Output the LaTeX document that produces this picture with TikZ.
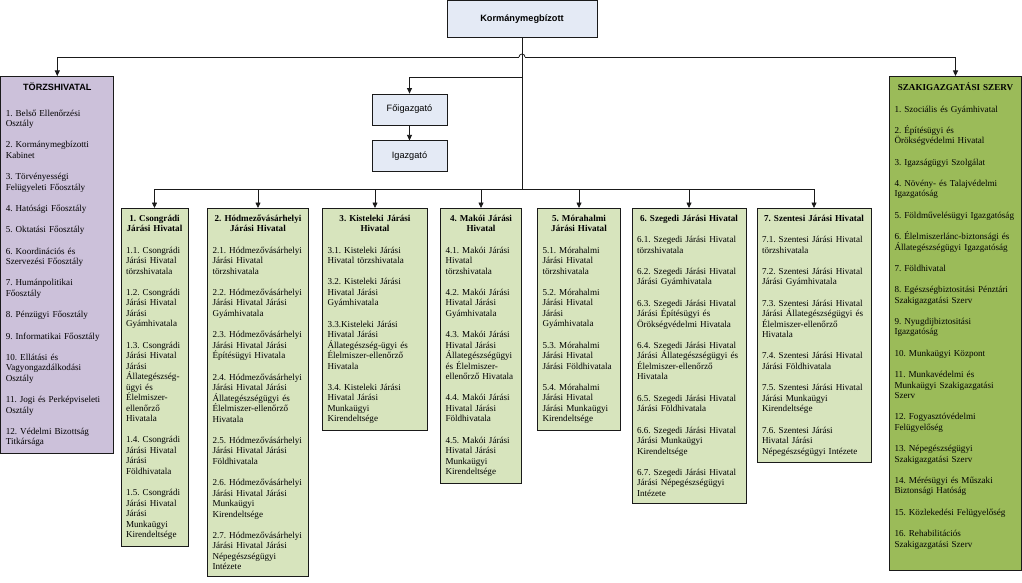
\documentclass[tikz,border=0pt]{standalone}
\usepackage{fontspec}
\setmainfont{Liberation Serif}
\setsansfont{Liberation Sans}
\usepackage{xcolor}
\definecolor{vezetokek}{HTML}{E4EAF5}
\definecolor{torzslila}{HTML}{CCC1DA}
\definecolor{jarasizold}{HTML}{D7E4BD}
\definecolor{szakzold}{HTML}{9BBB59}
\definecolor{keret}{HTML}{1A1A1A}
\usepackage{tikz}
\usetikzlibrary{positioning, arrows.meta}
\hyphenpenalty=10000
\exhyphenpenalty=10000
\frenchspacing
\tikzset{
  >={Triangle[length=5.5pt, width=5pt]},
  vezeto/.style={
    rectangle, draw=keret, fill=vezetokek, line width=0.8pt,
    align=center, font=\sffamily\fontsize{9.2}{11}\selectfont
  },
  hivatal/.style={
    rectangle, draw=keret, line width=0.8pt, anchor=north, align=left,
    inner xsep=5pt, inner ysep=6.5pt, font=\fontsize{9.1}{10.5}\selectfont
  },
  torzshiv/.style={hivatal, fill=torzslila},
  jarasi/.style={hivatal, fill=jarasizold},
  szakig/.style={hivatal, fill=szakzold},
  vonal/.style={keret, line width=0.8pt},
  nyil/.style={vonal, ->}
}
\newcommand{\cim}[1]{\makebox[\linewidth][c]{\bfseries #1}}
\newcommand{\ures}{\\[10.8pt]}

\begin{document}
\begin{tikzpicture}[x=1pt, y=-1pt]
\useasboundingbox (0,0) rectangle (1022,583);

% Vezetes
\node[vezeto, font=\sffamily\bfseries\fontsize{9.2}{11}\selectfont,
  minimum width=150pt, minimum height=37pt] (korm) at (522,19) {Kormánymegbízott};
\node[vezeto, minimum width=75pt, minimum height=31pt] (foig) at (409.5,109.5) {Főigazgató};
\node[vezeto, minimum width=75pt, minimum height=31pt, below=15pt of foig] (igazg) {Igazgató};

% Torzshivatal
\node[torzshiv, text width=103pt] (torzs) at (57.3,76)
  {\cim{\sffamily TÖRZSHIVATAL}\\[15pt]
   1. Belső Ellenőrzési\\Osztály\ures
   2. Kormánymegbízotti\\Kabinet\ures
   3. Törvényességi\\Felügyeleti Főosztály\ures
   4. Hatósági Főosztály\ures
   5. Oktatási Főosztály\ures
   6. Koordinációs és\\Szervezési Főosztály\ures
   7. Humánpolitikai\\Főosztály\ures
   8. Pénzügyi Főosztály\ures
   9. Informatikai Főosztály\ures
   10. Ellátási és\\Vagyongazdálkodási\\Osztály\ures
   11. Jogi és Perképviseleti\\Osztály\ures
   12. Védelmi Bizottság\\Titkársága};

% Szakigazgatasi szerv
\node[szakig, text width=122pt] (szak) at (955.5,76)
  {\cim{SZAKIGAZGATÁSI SZERV}\ures
   1. Szociális és Gyámhivatal\ures
   2. Építésügyi és\\Örökségvédelmi Hivatal\ures
   3. Igazságügyi Szolgálat\ures
   4. Növény- és Talajvédelmi\\Igazgatóság\ures
   5. Földművelésügyi Igazgatóság\ures
   6. Élelmiszerlánc-biztonsági és\\Állategészségügyi Igazgatóság\ures
   7. Földhivatal\ures
   8. Egészségbiztositási Pénztári\\Szakigazgatási Szerv\ures
   9. Nyugdijbiztositási\\Igazgatóság\ures
   10. Munkaügyi Központ\ures
   11. Munkavédelmi és\\Munkaügyi Szakigazgatási\\Szerv\ures
   12. Fogyasztóvédelmi\\Felügyelőség\ures
   13. Népegészségügyi\\Szakigazgatási Szerv\ures
   14. Mérésügyi és Műszaki\\Biztonsági Hatóság\ures
   15. Közlekedési Felügyelőség\ures
   16. Rehabilitációs\\Szakigazgatási Szerv\\[6pt]\mbox{}};

% Jarasi hivatalok
\node[jarasi, text width=57pt] (h1) at (154.5,208)
  {\cim{1. Csongrádi}\\\cim{Járási Hivatal}\ures
   1.1. Csongrádi\\Járási Hivatal\\törzshivatala\ures
   1.2. Csongrádi\\Járási Hivatal\\Járási\\Gyámhivatala\ures
   1.3. Csongrádi\\Járási Hivatal\\Járási\\Állategészség-\\ügyi és\\Élelmiszer-\\ellenőrző\\Hivatala\ures
   1.4. Csongrádi\\Járási Hivatal\\Járási\\Földhivatala\ures
   1.5. Csongrádi\\Járási Hivatal\\Járási\\Munkaügyi\\Kirendeltsége};
\node[jarasi, text width=91pt] (h2) at (258,208)
  {\cim{2. Hódmezővásárhelyi}\\\cim{Járási Hivatal}\ures
   2.1. Hódmezővásárhelyi\\Járási Hivatal\\törzshivatala\ures
   2.2. Hódmezővásárhelyi\\Járási Hivatal Járási\\Gyámhivatala\ures
   2.3. Hódmezővásárhelyi\\Járási Hivatal Járási\\Építésügyi Hivatala\ures
   2.4. Hódmezővásárhelyi\\Járási Hivatal Járási\\Állategészségügyi és\\Élelmiszer-ellenőrző\\Hivatala\ures
   2.5. Hódmezővásárhelyi\\Járási Hivatal Járási\\Földhivatala\ures
   2.6. Hódmezővásárhelyi\\Járási Hivatal Járási\\Munkaügyi\\Kirendeltsége\ures
   2.7. Hódmezővásárhelyi\\Járási Hivatal Járási\\Népegészségügyi\\Intézete};
\node[jarasi, text width=95pt] (h3) at (375,208)
  {\cim{3. Kisteleki Járási}\\\cim{Hivatal}\ures
   3.1. Kisteleki Járási\\Hivatal törzshivatala\ures
   3.2. Kisteleki Járási\\Hivatal Járási\\Gyámhivatala\ures
   3.3.Kisteleki Járási\\Hivatal Járási\\Állategészség-ügyi és\\Élelmiszer-ellenőrző\\Hivatala\ures
   3.4. Kisteleki Járási\\Hivatal Járási\\Munkaügyi\\Kirendeltsége};
\node[jarasi, text width=71pt] (h4) at (481,208)
  {\cim{4. Makói Járási}\\\cim{Hivatal}\ures
   4.1. Makói Járási\\Hivatal\\törzshivatala\ures
   4.2. Makói Járási\\Hivatal Járási\\Gyámhivatala\ures
   4.3. Makói Járási\\Hivatal Járási\\Állategészségügyi\\és Élelmiszer-\\ellenőrző Hivatala\ures
   4.4. Makói Járási\\Hivatal Járási\\Földhivatala\ures
   4.5. Makói Járási\\Hivatal Járási\\Munkaügyi\\Kirendeltsége};
\node[jarasi, text width=73pt] (h5) at (579,208)
  {\cim{5. Mórahalmi}\\\cim{Járási Hivatal}\ures
   5.1. Mórahalmi\\Járási Hivatal\\törzshivatala\ures
   5.2. Mórahalmi\\Járási Hivatal\\Járási\\Gyámhivatala\ures
   5.3. Mórahalmi\\Járási Hivatal\\Járási Földhivatala\ures
   5.4. Mórahalmi\\Járási Hivatal\\Járási Munkaügyi\\Kirendeltsége};
\node[jarasi, text width=104pt] (h6) at (689,208)
  {\cim{6. Szegedi Járási Hivatal}\ures
   6.1. Szegedi Járási Hivatal\\törzshivatala\ures
   6.2. Szegedi Járási Hivatal\\Járási Gyámhivatala\ures
   6.3. Szegedi Járási Hivatal\\Járási Építésügyi és\\Örökségvédelmi Hivatala\ures
   6.4. Szegedi Járási Hivatal\\Járási Állategészségügyi és\\Élelmiszer-ellenőrző\\Hivatala\ures
   6.5. Szegedi Járási Hivatal\\Járási Földhivatala\ures
   6.6. Szegedi Járási Hivatal\\Járási Munkaügyi\\Kirendeltsége\ures
   6.7. Szegedi Járási Hivatal\\Járási Népegészségügyi\\Intézete};
\node[jarasi, text width=104pt] (h7) at (814,208)
  {\cim{7. Szentesi Járási Hivatal}\ures
   7.1. Szentesi Járási Hivatal\\törzshivatala\ures
   7.2. Szentesi Járási Hivatal\\Járási Gyámhivatala\ures
   7.3. Szentesi Járási Hivatal\\Járási Állategészségügyi és\\Élelmiszer-ellenőrző\\Hivatala\ures
   7.4. Szentesi Járási Hivatal\\Járási Földhivatala\ures
   7.5. Szentesi Járási Hivatal\\Járási Munkaügyi\\Kirendeltsége\ures
   7.6. Szentesi Járási\\Hivatal Járási\\Népegészségügyi Intézete};

% Elagazasi pontok
\coordinate (agfelso) at (522,57);
\coordinate (agfo) at (522,77);
\coordinate (agjaras) at (522,189);

% Edges
\draw[vonal] (korm) -- (agjaras);
\draw[nyil] ([xshift=-3pt]agfelso) -| (torzs);
\draw[nyil] ([xshift=3pt]agfelso) -| (szak);
\draw[vonal] ([xshift=-3pt]agfelso) arc[start angle=180, end angle=0, radius=3pt];
\draw[nyil] (agfo) -| (foig);
\draw[nyil] (foig) -- (igazg);
\foreach \h in {h1,h2,h3,h4,h5,h6,h7}
  \draw[nyil] (agjaras) -| (\h);

\end{tikzpicture}
\end{document}
